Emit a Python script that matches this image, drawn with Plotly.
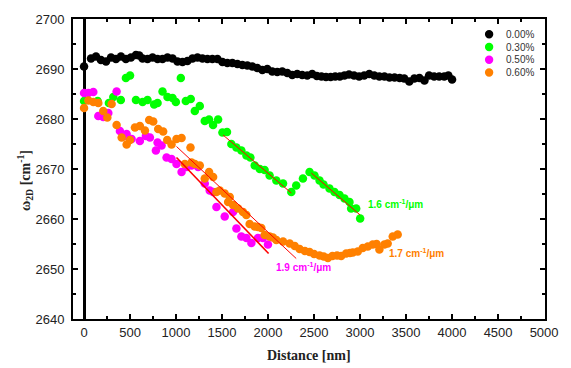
import plotly.graph_objects as go

# ---------------- data ----------------
series_names = ["0.00%", "0.30%", "0.50%", "0.60%"]
series_colors = ["#000000", "#00ff00", "#ff00ff", "#ff8000"]

x_000 = [0, 76, 130, 184, 239, 293, 347, 401, 455, 510, 564, 600, 636, 690, 745, 799, 853, 907, 962, 1016,
         1070, 1124, 1179, 1233, 1287, 1341, 1395, 1450, 1504, 1558, 1612, 1667, 1721, 1775, 1829, 1883, 1938, 1992,
         2046, 2100, 2154, 2209, 2263, 2317, 2371, 2426, 2480, 2530, 2580, 2630, 2680, 2730, 2780, 2830, 2880, 2935,
         2990, 3045, 3100, 3155, 3210, 3265, 3320, 3375, 3430, 3480, 3535, 3590, 3645, 3700, 3750, 3805, 3860, 3915,
         3960, 4000]
y_000 = [2690.5, 2692.1, 2692.5, 2691.8, 2691.5, 2692.3, 2692.0, 2692.5, 2692.0, 2692.3, 2692.8, 2692.7, 2692.1,
         2692.0, 2692.3, 2692.0, 2692.0, 2692.3, 2692.1, 2691.5, 2691.4, 2691.6, 2692.1, 2692.3, 2692.1, 2692.0,
         2692.0, 2692.0, 2691.4, 2691.2, 2691.2, 2691.0, 2690.8, 2690.7, 2690.5, 2690.2, 2689.8, 2690.0, 2689.5,
         2689.4, 2689.5, 2689.2, 2688.8, 2689.0, 2688.8, 2688.7, 2689.0, 2688.6, 2688.5, 2688.4, 2688.4, 2688.5,
         2688.5, 2688.7, 2688.9, 2688.7, 2688.5, 2688.7, 2689.0, 2688.7, 2688.5, 2688.5, 2688.3, 2688.3, 2688.2,
         2688.1, 2687.5, 2688.1, 2688.2, 2687.7, 2688.7, 2688.5, 2688.5, 2688.5, 2688.7, 2687.9]

x_030 = [0, 148, 270, 318, 400, 455, 500, 564, 636, 690, 762, 799, 853, 907, 962, 998, 1052, 1106, 1160, 1204,
         1258, 1312, 1359, 1402, 1457, 1504, 1554, 1601, 1656, 1710, 1765, 1808, 1855, 1910, 1963, 2017, 2090,
         2163, 2253, 2306, 2379, 2451, 2505, 2560, 2603, 2668, 2722, 2777, 2831, 2885, 2903, 2958, 3001]
y_030 = [2683.6, 2683.6, 2683.2, 2684.4, 2683.8, 2688.2, 2688.7, 2683.8, 2683.4, 2683.8, 2682.9, 2683.2, 2685.5,
         2684.4, 2684.2, 2683.4, 2688.2, 2683.6, 2684.0, 2681.6, 2682.6, 2679.6, 2679.9, 2678.8, 2679.9, 2677.3,
         2677.4, 2675.0, 2674.3, 2673.7, 2672.7, 2672.3, 2670.7, 2670.0, 2669.8, 2668.7, 2667.7, 2667.1, 2665.4,
         2666.7, 2668.1, 2669.4, 2668.7, 2667.7, 2666.9, 2666.1, 2665.4, 2664.8, 2664.1, 2663.4, 2662.1, 2662.1,
         2660.1]

x_050 = [0, 47, 101, 155, 209, 264, 354, 390, 437, 463, 517, 607, 672, 716, 781, 799, 843, 897, 951, 1005, 1060,
         1114, 1168, 1240, 1312, 1366, 1403, 1439, 1529, 1619, 1656, 1710, 1765, 1819, 1890, 1944, 1999]
y_050 = [2685.2, 2685.2, 2685.4, 2680.6, 2680.4, 2681.2, 2685.5, 2677.6, 2676.6, 2677.0, 2676.0, 2675.6, 2676.6,
         2676.3, 2673.7, 2675.3, 2674.7, 2672.3, 2672.0, 2671.0, 2669.4, 2670.4, 2670.7, 2670.4, 2667.1, 2665.7,
         2665.4, 2662.4, 2660.5, 2661.4, 2658.1, 2656.5, 2656.2, 2655.2, 2656.2, 2656.2, 2654.9]

x_060 = [0, 47, 101, 155, 209, 253, 300, 354, 409, 463, 499, 553, 607, 662, 708, 752, 806, 860, 904, 951, 1005,
         1060, 1095, 1157, 1168, 1204, 1258, 1312, 1359, 1403, 1439, 1475, 1529, 1566, 1584, 1620, 1674, 1728,
         1764, 1800, 1855, 1890, 1927, 1963, 2017, 2053, 2090, 2163, 2235, 2290, 2343, 2400, 2451, 2500, 2560,
         2605, 2650, 2700, 2750, 2795, 2849, 2890, 2921, 2975, 3029, 3084, 3138, 3180, 3210, 3265, 3300, 3355,
         3409]
y_060 = [2682.2, 2683.7, 2683.4, 2683.2, 2681.6, 2680.3, 2683.0, 2678.8, 2676.3, 2674.9, 2675.8, 2678.3, 2678.6,
         2677.7, 2679.8, 2679.5, 2678.0, 2677.5, 2675.8, 2674.9, 2676.0, 2676.2, 2671.0, 2674.3, 2671.3, 2671.0,
         2670.7, 2668.1, 2669.4, 2668.4, 2665.4, 2665.7, 2665.1, 2663.4, 2664.4, 2662.8, 2662.1, 2661.4, 2660.8,
         2659.0, 2658.5, 2658.4, 2658.2, 2656.8, 2656.5, 2656.3, 2655.8, 2655.5, 2655.1, 2654.6, 2654.0, 2653.6,
         2653.4, 2653.0, 2652.7, 2652.5, 2652.2, 2652.6, 2652.7, 2652.6, 2653.1, 2653.2, 2653.3, 2653.5, 2654.2,
         2654.5, 2654.9, 2655.0, 2653.9, 2654.9, 2655.1, 2656.5, 2656.9]

# linear fit segments (start/end) and their slope labels
fit_x = [[1511, 2253], [2470, 3001], [1005, 2006], [1005, 2306]]
fit_y = [[2676.8, 2665.2], [2669.2, 2660.8], [2672.3, 2653.1], [2674.5, 2652.1]]
fit_widths = [1, 1, 1.6, 1]
label_text = ["1.6 cm<sup>-1</sup>/μm", "1.9 cm<sup>-1</sup>/μm", "1.7 cm<sup>-1</sup>/μm"]
label_x = [3382, 2386, 3617]
label_y = [2663.1, 2650.5, 2653.2]
label_colors = ["#00ff00", "#ff00ff", "#ff8000"]

x_ticks = [0, 500, 1000, 1500, 2000, 2500, 3000, 3500, 4000, 4500, 5000]
y_ticks = [2640, 2650, 2660, 2670, 2680, 2690, 2700]

# ---------------- figure ----------------
fig = go.Figure()
for xs, ys, name, col in zip([x_000, x_030, x_050, x_060], [y_000, y_030, y_050, y_060],
                             series_names, series_colors):
    fig.add_trace(go.Scatter(x=xs, y=ys, mode="markers", name=name,
                             marker=dict(color=col, size=8.5, line=dict(width=0)),
                             showlegend=False))

for fx, fy, w in zip(fit_x, fit_y, fit_widths):
    fig.add_trace(go.Scatter(x=fx, y=fy, mode="lines", line=dict(color="#ff0000", width=w),
                             showlegend=False, hoverinfo="skip"))

for t, lx, ly, c in zip(label_text, label_x, label_y, label_colors):
    fig.add_annotation(x=lx, y=ly, xref="x", yref="y", text="<b>" + t + "</b>", showarrow=False,
                       font=dict(family="Liberation Sans, Arial", size=10, color=c))

# custom compact legend
leg_y0 = 0.949
leg_dy = 0.0425
for i, (name, col) in enumerate(zip(series_names, series_colors)):
    yy = leg_y0 - i * leg_dy
    fig.add_shape(type="circle", xref="paper", yref="paper", xsizemode="pixel", ysizemode="pixel",
                  xanchor=0.8816, yanchor=yy, x0=-4.2, x1=4.2, y0=-4.2, y1=4.2,
                  fillcolor=col, line=dict(width=0))
    fig.add_annotation(x=0.913, y=yy, xref="paper", yref="paper", text=name, showarrow=False,
                       xanchor="left", yanchor="middle",
                       font=dict(family="Liberation Sans, Arial", size=10, color="#333333"))

axis_common = dict(showline=True, linecolor="black", linewidth=2, mirror="allticks",
                   ticks="inside", ticklen=5, tickwidth=1.5, tickcolor="black",
                   showgrid=False,
                   tickfont=dict(family="Liberation Sans, Arial", size=13, color="#222222"))

fig.update_xaxes(range=[-120, 5010], tickvals=x_ticks, zeroline=True, zerolinecolor="black",
                 zerolinewidth=2.5,
                 minor=dict(ticks="inside", ticklen=3, tickwidth=1.5, tickcolor="black", dtick=250,
                            tick0=0, showgrid=False),
                 **axis_common)
fig.update_yaxes(range=[2640, 2700], tickvals=y_ticks, zeroline=False,
                 minor=dict(ticks="inside", ticklen=3, tickwidth=1.5, tickcolor="black", dtick=5,
                            tick0=2640, showgrid=False),
                 ticklabelstandoff=4,
                 **axis_common)

fig.add_annotation(x=0.5, y=-0.1215, xref="paper", yref="paper", text="<b>Distance [nm]</b>",
                   showarrow=False, yanchor="middle",
                   font=dict(family="Liberation Serif, Times New Roman", size=14, color="#222222"))
fig.add_annotation(x=-0.1015, y=0.46, xref="paper", yref="paper",
                   text="<b>ω<sub>2D</sub> [cm<sup>-1</sup>]</b>", textangle=-90,
                   showarrow=False, xanchor="center", yanchor="middle",
                   font=dict(family="Liberation Serif, Times New Roman", size=14, color="#222222"))

fig.update_layout(width=571, height=368, margin=dict(l=73, r=25, t=17, b=49),
                  paper_bgcolor="white", plot_bgcolor="white", showlegend=False)

fig.write_html("out.html", config={"displayModeBar": False},
               post_script="document.body.style.margin='0';document.body.style.overflow='hidden';")
